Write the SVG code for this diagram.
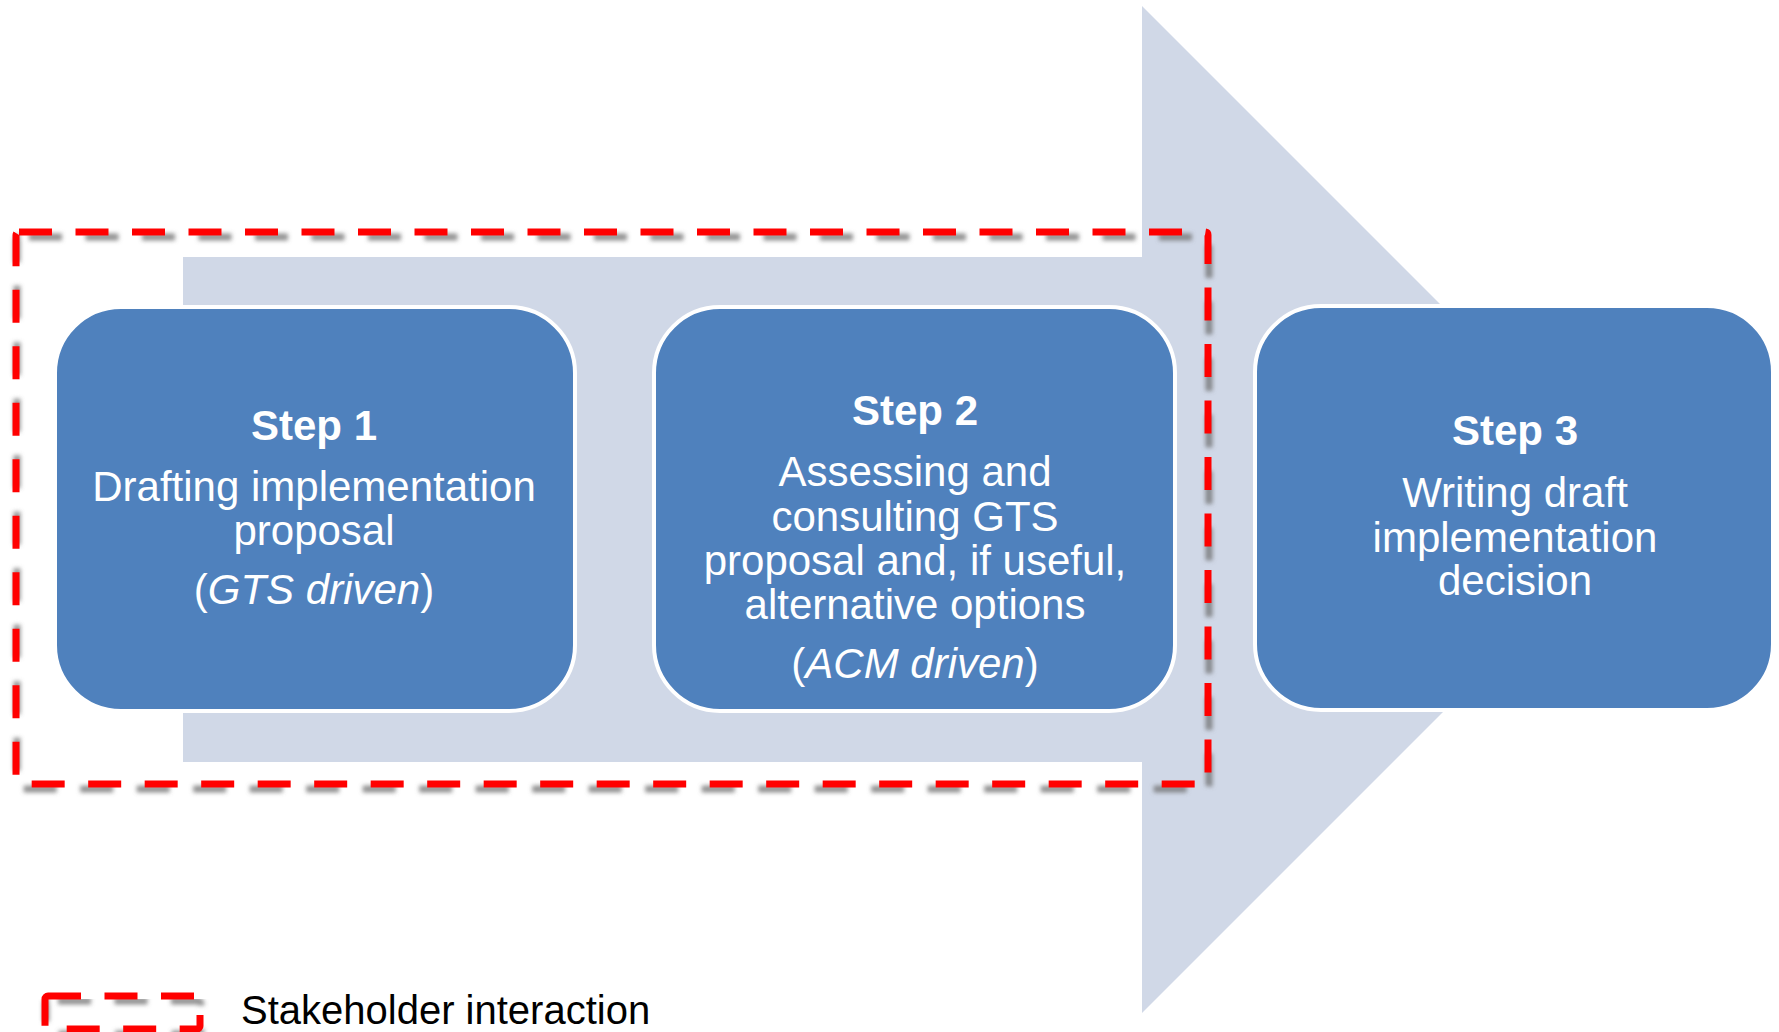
<svg xmlns="http://www.w3.org/2000/svg" width="1779" height="1032" viewBox="0 0 1779 1032">
<defs>
<filter id="blur" x="-5%" y="-5%" width="110%" height="110%"><feGaussianBlur stdDeviation="2.2"/></filter>
<style>
.box{fill:#4F81BD;stroke:#FFFFFF;stroke-width:4}
.t{font-family:"Liberation Sans",Arial,sans-serif;font-size:42px;fill:#FFFFFF;text-anchor:middle}
.b{font-weight:bold}
.i{font-style:italic}
.dash{fill:none;stroke:#FF0000;stroke-width:7;stroke-dasharray:33 23.5}
.shadow{fill:none;stroke:#6e6e6e;stroke-opacity:0.75;stroke-width:7;stroke-dasharray:33 23.5;stroke-dashoffset:-9;filter:url(#blur)}
</style>
</defs>
<rect width="1779" height="1032" fill="#FFFFFF"/>
<g id="arrow">
<path d="M183,257 H1142 V6 L1645.5,509.5 L1142,1013 V762 H183 Z" fill="#D0D8E7"/>
</g>
<g id="step1">
<rect class="box" x="55" y="307" width="520" height="404" rx="66" ry="66"/>
<text class="t b" x="314" y="440">Step 1</text>
<text class="t" x="314" y="501">Drafting implementation</text>
<text class="t" x="314" y="545">proposal</text>
<text class="t" x="314" y="604">(<tspan class="i">GTS driven</tspan>)</text>
</g>
<g id="step2">
<rect class="box" x="654" y="307" width="521" height="404" rx="66" ry="66"/>
<text class="t b" x="915" y="425">Step 2</text>
<text class="t" x="915" y="486">Assessing and</text>
<text class="t" x="915" y="531">consulting GTS</text>
<text class="t" x="915" y="575">proposal and, if useful,</text>
<text class="t" x="915" y="619">alternative options</text>
<text class="t" x="915" y="678">(<tspan class="i">ACM driven</tspan>)</text>
</g>
<g id="step3">
<rect class="box" x="1255" y="306" width="518" height="404" rx="66" ry="66"/>
<text class="t b" x="1515" y="445">Step 3</text>
<text class="t" x="1515" y="507">Writing draft</text>
<text class="t" x="1515" y="552">implementation</text>
<text class="t" x="1515" y="595">decision</text>
</g>
<g id="stakeholder-interaction">
<rect class="shadow" x="16" y="232" width="1192" height="552" rx="3" transform="translate(1,5)"/>
<rect class="dash" x="16" y="232" width="1192" height="552" rx="3"/>
</g>
<g id="legend">
<rect class="shadow" x="45" y="996" width="155" height="33" rx="3" transform="translate(1,5)"/>
<rect class="dash" x="45" y="996" width="155" height="33" rx="3"/>
<text x="241" y="1024" font-family="'Liberation Sans',Arial,sans-serif" font-size="40" fill="#000000">Stakeholder interaction</text>
</g>
<g id="connectors"></g>
</svg>
